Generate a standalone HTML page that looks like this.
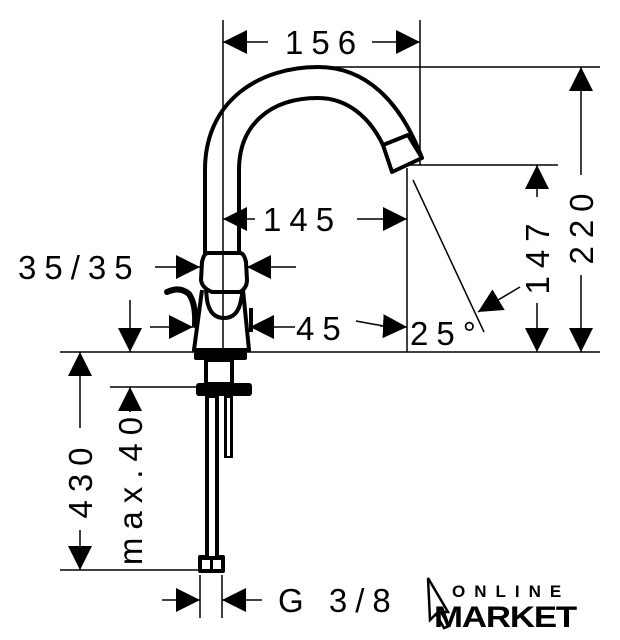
<!DOCTYPE html>
<html><head><style>body{margin:0;background:#fff}svg{display:block}text{font-family:"Liberation Sans",sans-serif;fill:#000}</style></head><body>
<svg width="620" height="640" viewBox="0 0 620 640">
<defs>
<marker id="a" viewBox="0 0 10 10" refX="10" refY="5" markerWidth="24" markerHeight="24" markerUnits="userSpaceOnUse" orient="auto"><path d="M0,0L10,5L0,10z"/></marker>
</defs>
<g stroke="#000" stroke-width="1.5" fill="none">
<line x1="223" y1="20" x2="223" y2="352"/>
<line x1="420" y1="20" x2="420" y2="165"/>
<line x1="320" y1="67" x2="600" y2="67"/>
<line x1="408" y1="165" x2="558" y2="165"/>
<line x1="407" y1="168" x2="407" y2="352"/>
<line x1="413" y1="180" x2="484" y2="332"/>
<line x1="60" y1="352" x2="600" y2="352"/>
<line x1="110" y1="387" x2="210" y2="387"/>
<line x1="60" y1="570" x2="215" y2="570"/>
<line x1="200" y1="575" x2="200" y2="618"/>
<line x1="222" y1="575" x2="222" y2="618"/>
<line x1="268" y1="42" x2="223" y2="42" marker-end="url(#a)"/>
<line x1="372" y1="42" x2="420" y2="42" marker-end="url(#a)"/>
<line x1="255" y1="219" x2="223" y2="219" marker-end="url(#a)"/>
<line x1="357" y1="219" x2="407" y2="219" marker-end="url(#a)"/>
<line x1="155" y1="267" x2="200" y2="267" marker-end="url(#a)"/>
<line x1="296" y1="267" x2="247" y2="267" marker-end="url(#a)"/>
<line x1="150" y1="327" x2="193" y2="327" marker-end="url(#a)"/>
<line x1="295" y1="327" x2="250" y2="327" marker-end="url(#a)"/>
<path d="M356,321 Q372,324 384,326" />
<line x1="380" y1="326" x2="407" y2="327" marker-end="url(#a)"/>
<line x1="520" y1="287" x2="478" y2="312" marker-end="url(#a)"/>
<line x1="537" y1="197" x2="537" y2="165" marker-end="url(#a)"/>
<line x1="537" y1="303" x2="537" y2="352" marker-end="url(#a)"/>
<line x1="581" y1="175" x2="581" y2="67" marker-end="url(#a)"/>
<line x1="581" y1="275" x2="581" y2="352" marker-end="url(#a)"/>
<line x1="80" y1="428" x2="80" y2="352" marker-end="url(#a)"/>
<line x1="80" y1="530" x2="80" y2="570" marker-end="url(#a)"/>
<line x1="130" y1="300" x2="130" y2="352" marker-end="url(#a)"/>
<line x1="130" y1="412" x2="130" y2="387" marker-end="url(#a)"/>
<line x1="162" y1="600" x2="200" y2="600" marker-end="url(#a)"/>
<line x1="262" y1="600" x2="222" y2="600" marker-end="url(#a)"/>
</g>
<g stroke="#000" stroke-width="4" fill="none" stroke-linejoin="round">
<path d="M205,255 L205,170 C205,100 260,67 318,67 C365,67 400,100 422,158"/>
<path d="M239,255 L239,170 C239,125 270,98 318,98 C348,98 370,118 383,145"/>
<path d="M383,145 L408,135 L422,158 L392,172 Z"/>
<path d="M208,253 Q204,253 202,262 L201,280 Q202,288 212,292 L240,292 Q247,288 247,280 L246,262 Q244,253 240,253 Z"/>
<path d="M206,290 L207,300 Q210,318 224,318 Q238,318 241,300 L243,290"/>
<path d="M202,290 L194,350 L249,350 L243,290"/>
<path d="M251,308 L251,332"/>
</g>
<path d="M167,292 Q180,286 189,294 Q196,304 195,325" stroke="#000" stroke-width="6" fill="none" stroke-linecap="round"/>
<g fill="#000">
<rect x="194" y="352" width="53" height="8" rx="2"/>
<rect x="204" y="360" width="30" height="24"/>
<rect x="196" y="383" width="56" height="13" rx="3"/>
<rect x="205" y="396" width="14" height="162"/>
<rect x="224" y="396" width="9" height="62"/>
<rect x="198" y="555" width="27" height="18" rx="2"/>
</g>
<g fill="#fff">
<rect x="209" y="398" width="6" height="158"/>
<rect x="227" y="398" width="3" height="58"/>
<rect x="202" y="560" width="8" height="9"/>
<rect x="213" y="560" width="8" height="9"/>
<rect x="208" y="362" width="22" height="20"/>
</g>
<g font-size="33" letter-spacing="8">
<text x="285" y="54">156</text>
<text x="263" y="231">145</text>
<text x="18" y="279">35/35</text>
<text x="296" y="340">45</text>
<text x="410" y="345">25°</text>
<text x="278" y="612">G 3/8</text>
<text transform="translate(549,255) rotate(-90)" text-anchor="middle">147</text>
<text transform="translate(593,225) rotate(-90)" text-anchor="middle">220</text>
<text transform="translate(92,479) rotate(-90)" text-anchor="middle">430</text>
<text transform="translate(142,487) rotate(-90)" text-anchor="middle">max.40</text>
</g>
<path d="M428,578 L448,612 L441,612 L449,626 L444,628 L436,614 L430,620 Z" fill="none" stroke="#000" stroke-width="2.5"/>
<text x="452" y="597" font-size="17" font-weight="bold" letter-spacing="9">ONLINE</text>
<text x="434" y="627" font-size="30" font-weight="bold" letter-spacing="-1" textLength="142" lengthAdjust="spacingAndGlyphs">MARKET</text>
</svg>
</body></html>
